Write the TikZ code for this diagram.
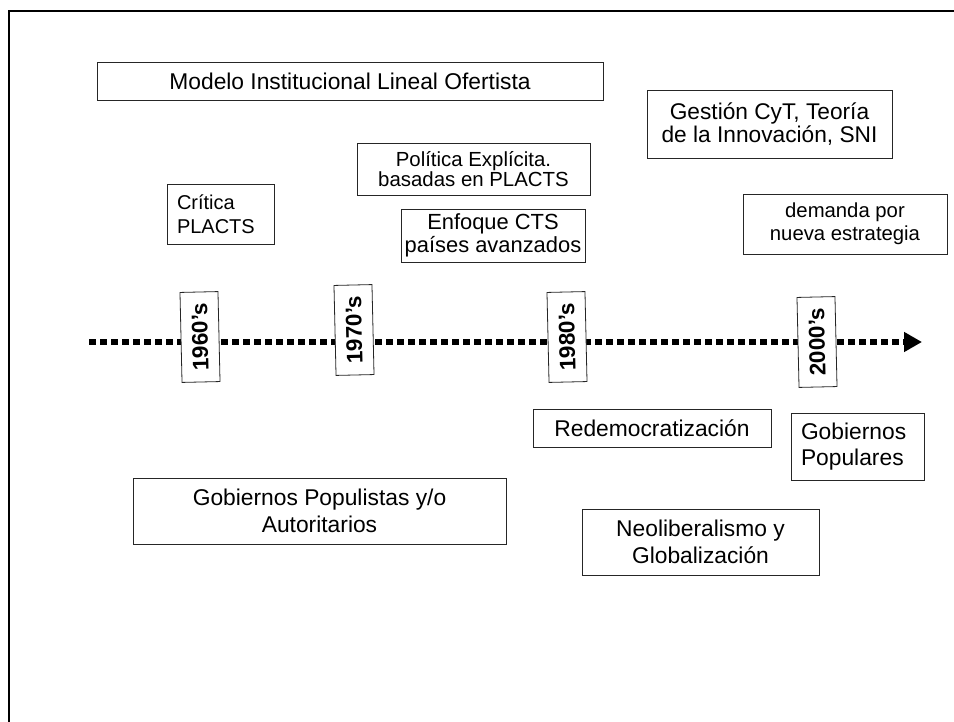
\documentclass[tikz,border=0pt]{standalone}
\usepackage{fontspec}
\setmainfont{Liberation Sans}
\usetikzlibrary{
    positioning,      % For placing nodes relative to each other
    arrows.meta       % For the arrow tip at the end of the time line
}

\begin{document}
\begin{tikzpicture}[
    x=1pt, y=-1pt,
    % Style for the plain text boxes
    box_style/.style={
        draw=black!85,
        line width=0.8pt,
        align=center,
        inner sep=2pt,
        font=\fontsize{22.8}{26.5}\selectfont
    },
    % Boxes with a slightly smaller text
    small_text/.style={
        font=\fontsize{20.3}{22.5}\selectfont
    },
    % Boxes whose text starts at the left
    left_text/.style={
        align=left,
        inner xsep=10pt
    },
    % Style for the decade labels sitting on the line
    year_style/.style={
        draw=black!85,
        fill=white,
        line width=0.8pt,
        rotate=91.3,
        minimum width=90pt,
        minimum height=38pt,
        inner sep=0pt,
        font=\fontsize{22.5}{24}\selectfont\bfseries
    },
    % Style for the dotted time line
    line_style/.style={
        line width=6.5pt,
        dash pattern=on 7pt off 4pt,
        -{Triangle[length=18pt, width=19pt]}
    }
]
    % frame (only top and left edges are inside the picture)
    \useasboundingbox (0,0) rectangle (954,722);
    \draw[line width=2.5pt] (9,722) -- (9,11) -- (954,11);

    % 1. Time line with the decades.
    \coordinate (tl_start) at (89,342);
    \coordinate (tl_end) at (922,342);
    \draw[line_style] (tl_start) -- (tl_end);

    \node[year_style] (y60) at (200,337) {1960’s};
    \node[year_style] (y70) at (354,330) {1970’s};
    \node[year_style] (y80) at (567,337) {1980’s};
    \node[year_style] (y00) at (817,342) {2000’s};

    % 2. Boxes above the line.
    \node[box_style, minimum width=506pt, minimum height=38pt] (modelo) at (350,81) {Modelo Institucional Lineal Ofertista};
    \node[box_style, small_text, left_text, minimum width=107pt, minimum height=60pt, text width=87pt,
          font=\fontsize{20}{24.3}\selectfont] (critica) at (220.5,214) {Crítica\\PLACTS};
    \node[box_style, small_text, minimum width=233pt, minimum height=52pt,
          font=\fontsize{20.4}{20.5}\selectfont] (politica) at (473.5,169) {Política Explícita.\\basadas en PLACTS};
    \node[box_style, minimum width=184pt, minimum height=53pt,
          font=\fontsize{21.9}{23}\selectfont] (enfoque) at (493,235.5) {Enfoque CTS\\países avanzados};
    \node[box_style, minimum width=245pt, minimum height=68pt,
          font=\fontsize{22.7}{22.5}\selectfont] (gestion) at (769.5,124) {Gestión CyT, Teoría\\de la Innovación, SNI};
    \node[box_style, small_text, minimum width=204pt, minimum height=60pt] (demanda) at (845,224) {demanda por\\nueva estrategia};

    % 3. Boxes below the line.
    \node[box_style, minimum width=238pt, minimum height=38pt] (redemo) at (652,428) {Redemocratización};
    \node[box_style, left_text, minimum width=133pt, minimum height=67pt, text width=113pt] (gobpopulares) at (857.5,446.5) {Gobiernos\\Populares};
    \node[box_style, minimum width=237pt, minimum height=66pt] (neolib) at (700.5,542) {Neoliberalismo y\\Globalización};
    \node[box_style, minimum width=373pt, minimum height=66pt] (populistas) at (319.5,511) {Gobiernos Populistas y/o\\Autoritarios};

\end{tikzpicture}
\end{document}
